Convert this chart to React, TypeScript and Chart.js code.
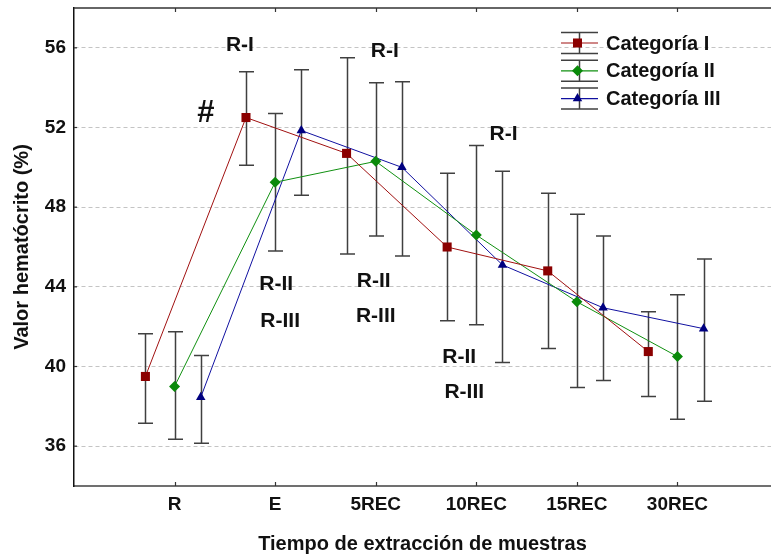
import { useEffect, useRef } from 'react';
import { Chart, registerables } from 'chart.js';

Chart.register(...registerables);

const categories = ['R', 'E', '5REC', '10REC', '15REC', '30REC'];
const yTicks = [36, 40, 44, 48, 52, 56];
const seriesNames = ['Categoría I', 'Categoría II', 'Categoría III'];

const catIMean = [39.5, 52.5, 50.7, 46.0, 44.8, 40.75];
const catILow = [37.15, 50.1, 45.65, 42.3, 40.9, 38.5];
const catIHigh = [41.65, 54.8, 55.5, 49.7, 48.7, 42.75];

const catIIMean = [39.0, 49.25, 50.3, 46.6, 43.25, 40.5];
const catIILow = [36.35, 45.8, 46.55, 42.1, 38.95, 37.35];
const catIIHigh = [41.75, 52.7, 54.25, 51.1, 47.65, 43.6];

const catIIIMean = [38.45, 51.85, 50.0, 45.1, 42.95, 41.9];
const catIIILow = [36.15, 48.6, 45.55, 40.2, 39.3, 38.25];
const catIIIHigh = [40.55, 54.9, 54.3, 49.8, 46.55, 45.4];

// significance labels placed in data space
const noteTexts = ['R-I', '#', 'R-I', 'R-I', 'R-II', 'R-III', 'R-II', 'R-III', 'R-II', 'R-III'];
const noteX = [0.65, 0.31, 2.09, 3.27, 1.01, 1.05, 1.98, 2.0, 2.83, 2.88];
const noteY = [56.14, 52.72, 55.84, 51.67, 44.14, 42.28, 44.29, 42.54, 40.48, 38.72];

const FONT = '"Liberation Sans", Arial, Helvetica, sans-serif';
const colors = ['#8b0000', '#0a8a0a', '#000080'];
const lineColors = ['#a01010', '#109010', '#1010a0'];
const offsets = [-0.29, 0, 0.26];
const styles = ['rect', 'rectRot', 'triangle'];
const radii = [6.4, 5.5, 5.5];
const means = [catIMean, catIIMean, catIIIMean];
const lows = [catILow, catIILow, catIIILow];
const highs = [catIHigh, catIIHigh, catIIIHigh];
const ERR_COLOR = '#404040';

function drawMarker(ctx: CanvasRenderingContext2D, style: string, x: number, y: number, r: number, color: string) {
  ctx.fillStyle = color;
  ctx.beginPath();
  if (style === 'rect') {
    const s = Math.SQRT1_2 * r;
    ctx.rect(x - s, y - s, 2 * s, 2 * s);
  } else if (style === 'rectRot') {
    ctx.moveTo(x, y - r);
    ctx.lineTo(x + r, y);
    ctx.lineTo(x, y + r);
    ctx.lineTo(x - r, y);
    ctx.closePath();
  } else {
    const h = r * 1.5;
    const w = r * Math.sqrt(3) / 2;
    ctx.moveTo(x, y - r);
    ctx.lineTo(x + w, y + h - r);
    ctx.lineTo(x - w, y + h - r);
    ctx.closePath();
  }
  ctx.fill();
}

const customPlugin = {
  id: 'customDecor',
  beforeDatasetsDraw(chart: any) {
    const { ctx, scales } = chart;
    const xs = scales.x;
    const ys = scales.y;
    ctx.save();
    ctx.strokeStyle = ERR_COLOR;
    ctx.lineWidth = 1.5;
    for (let d = 0; d < 3; d++) {
      for (let i = 0; i < categories.length; i++) {
        const px = Math.round(xs.getPixelForValue(i + offsets[d])) + 0.5;
        const yl = ys.getPixelForValue(lows[d][i]);
        const yh = ys.getPixelForValue(highs[d][i]);
        ctx.beginPath();
        ctx.moveTo(px, yh);
        ctx.lineTo(px, yl);
        ctx.moveTo(px - 7.5, yh);
        ctx.lineTo(px + 7.5, yh);
        ctx.moveTo(px - 7.5, yl);
        ctx.lineTo(px + 7.5, yl);
        ctx.stroke();
      }
    }
    ctx.restore();
  },
  afterDraw(chart: any) {
    const { ctx, chartArea, scales } = chart;
    const xs = scales.x;
    const ys = scales.y;
    ctx.save();
    // top frame line
    ctx.strokeStyle = '#333';
    ctx.lineWidth = 1.5;
    ctx.beginPath();
    ctx.moveTo(chartArea.left, chartArea.top);
    ctx.lineTo(chartArea.right, chartArea.top);
    ctx.stroke();
    // inner tick marks
    ctx.lineWidth = 1.2;
    for (let i = 0; i < categories.length; i++) {
      const px = Math.round(xs.getPixelForValue(i)) + 0.5;
      ctx.beginPath();
      ctx.moveTo(px, chartArea.top);
      ctx.lineTo(px, chartArea.top + 4);
      ctx.moveTo(px, chartArea.bottom);
      ctx.lineTo(px, chartArea.bottom - 4);
      ctx.stroke();
    }
    for (const v of yTicks) {
      const py = ys.getPixelForValue(v);
      ctx.beginPath();
      ctx.moveTo(chartArea.left, py);
      ctx.lineTo(chartArea.left + 3, py);
      ctx.stroke();
    }
    // annotations
    ctx.fillStyle = '#111';
    ctx.textAlign = 'center';
    ctx.textBaseline = 'middle';
    for (let i = 0; i < noteTexts.length; i++) {
      const t = noteTexts[i];
      ctx.font = t === '#' ? `bold 31px ${FONT}` : `bold 21px ${FONT}`;
      ctx.fillText(t, xs.getPixelForValue(noteX[i]), ys.getPixelForValue(noteY[i]));
    }
    // legend
    const lx0 = chartArea.right - 210;
    const lx1 = lx0 + 37;
    const vx = lx0 + 18.5;
    const rowY0 = chartArea.top + 35;
    const rowGap = 27.8;
    ctx.textAlign = 'left';
    ctx.font = `bold 20px ${FONT}`;
    for (let d = 0; d < 3; d++) {
      const ry = rowY0 + d * rowGap;
      ctx.strokeStyle = ERR_COLOR;
      ctx.lineWidth = 1.5;
      ctx.beginPath();
      ctx.moveTo(lx0, ry - 10.5);
      ctx.lineTo(lx1, ry - 10.5);
      ctx.moveTo(lx0, ry + 10.5);
      ctx.lineTo(lx1, ry + 10.5);
      ctx.moveTo(vx, ry - 10.5);
      ctx.lineTo(vx, ry + 10.5);
      ctx.stroke();
      ctx.strokeStyle = lineColors[d];
      ctx.lineWidth = 1.2;
      ctx.beginPath();
      ctx.moveTo(lx0, ry);
      ctx.lineTo(lx1, ry);
      ctx.stroke();
      drawMarker(ctx, styles[d], lx0 + 16.5, ry, radii[d], colors[d]);
      ctx.fillStyle = '#111';
      ctx.fillText(seriesNames[d], lx0 + 45, ry + 1);
    }
    ctx.restore();
  },
};

export default function App() {
  const ref = useRef<HTMLCanvasElement | null>(null);
  useEffect(() => {
    if (!ref.current) return;
    const datasets = seriesNames.map((name, d) => ({
      label: name,
      data: means[d].map((v, i) => ({ x: i + offsets[d], y: v })),
      showLine: true,
      borderColor: lineColors[d],
      borderWidth: 1,
      backgroundColor: colors[d],
      pointBackgroundColor: colors[d],
      pointBorderColor: colors[d],
      pointBorderWidth: 0,
      pointStyle: styles[d],
      pointRadius: radii[d],
      tension: 0,
    }));
    const tickFont = { family: FONT, size: 19, weight: 'bold' as const };
    const titleFont = { family: FONT, size: 20, weight: 'bold' as const };
    const chart = new Chart(ref.current, {
      type: 'line',
      data: { datasets },
      plugins: [customPlugin],
      options: {
        animation: false,
        responsive: false,
        maintainAspectRatio: false,
        layout: { autoPadding: false, padding: { top: 8, right: 0, left: 0, bottom: 0 } },
        plugins: { legend: { display: false }, tooltip: { enabled: false } },
        scales: {
          x: {
            type: 'linear',
            min: -1,
            max: 5.93,
            afterBuildTicks: (s: any) => {
              s.ticks = categories.map((_, i) => ({ value: i }));
            },
            afterFit: (s: any) => {
              s.height = 71;
              s.paddingLeft = 0;
              s.paddingRight = 0;
            },
            grid: { display: false, drawTicks: false },
            border: { display: true, color: '#707070', width: 2 },
            ticks: {
              callback: (v: any) => categories[Math.round(Number(v))] ?? '',
              font: tickFont,
              color: '#111',
              padding: 7,
              maxRotation: 0,
              autoSkip: false,
            },
            title: {
              display: true,
              text: 'Tiempo de extracción de muestras',
              font: titleFont,
              color: '#111',
              padding: { top: 0, bottom: 1 },
            },
          },
          y: {
            type: 'linear',
            min: 34,
            max: 58,
            afterBuildTicks: (s: any) => {
              s.ticks = yTicks.map((v) => ({ value: v }));
            },
            afterFit: (s: any) => {
              s.width = 74;
              s.paddingTop = 0;
              s.paddingBottom = 0;
            },
            grid: { color: '#c4c4c4', lineWidth: 1, drawTicks: false },
            border: { display: true, color: '#111', width: 1.5, dash: [4, 3] },
            ticks: { font: tickFont, color: '#111', padding: 8 },
            title: {
              display: true,
              text: 'Valor hematócrito (%)',
              font: titleFont,
              color: '#111',
              padding: { top: 10, bottom: 0 },
            },
          },
        },
      } as any,
    });
    return () => chart.destroy();
  }, []);
  return (
    <div style={{ position: 'absolute', left: 0, top: 0, width: 771, height: 557, background: '#fff' }}>
      <canvas ref={ref} width={771} height={557} style={{ width: 771, height: 557, display: 'block' }} />
    </div>
  );
}
